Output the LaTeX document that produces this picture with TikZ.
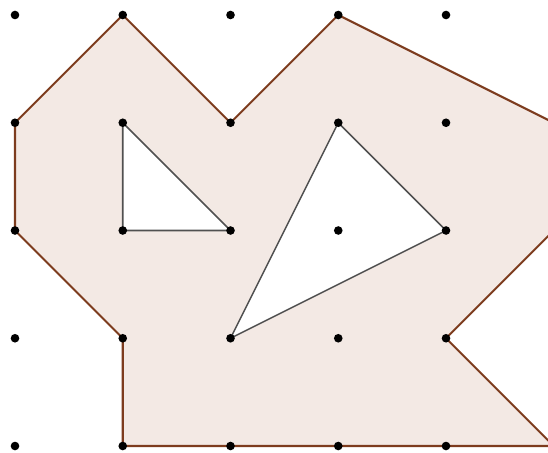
\documentclass[tikz,border=0pt]{standalone}
\usetikzlibrary{calc}
\definecolor{polyfill}{RGB}{243,233,228}
\definecolor{polyedge}{RGB}{125,60,30}
\definecolor{holeedge}{RGB}{80,80,80}
\tikzset{
  outeredge/.style={draw=polyedge, line width=1.1pt, line join=miter},
  holeline/.style={draw=holeedge, line width=0.8pt},
  griddot/.style={circle, fill=black, inner sep=0pt, minimum size=0.16cm}
}
\begin{document}
\begin{tikzpicture}[x=2cm,y=-2cm]
\useasboundingbox (-0.1392,-0.1392) rectangle (4.9466,4.0557);
\clip (-0.1392,-0.1392) rectangle (4.9466,4.0557);
% named grid points
\foreach \i in {0,...,5} {
  \foreach \j in {0,...,4} {
    \coordinate (p\i\j) at (\i,\j);
  }
}
% polygon with holes
\fill[polyfill, even odd rule]
  (p10) -- (p21) -- (p30) -- (p51) -- (p52) -- (p43) -- (p54) -- (p14) -- (p13) -- (p02) -- (p01) -- cycle
  (p11) -- (p12) -- (p22) -- cycle
  (p31) -- (p42) -- (p23) -- cycle;
\draw[outeredge]
  (p10) -- (p21) -- (p30) -- (p51) -- (p52) -- (p43) -- (p54) -- (p14) -- (p13) -- (p02) -- (p01) -- cycle;
\draw[holeline] (p11) -- (p12) -- (p22) -- cycle;
\draw[holeline] (p31) -- (p42) -- (p23) -- cycle;
% dots
\foreach \i in {0,...,4} {
  \foreach \j in {0,...,4} {
    \node[griddot] (d\i\j) at (p\i\j) {};
  }
}
\end{tikzpicture}
\end{document}
